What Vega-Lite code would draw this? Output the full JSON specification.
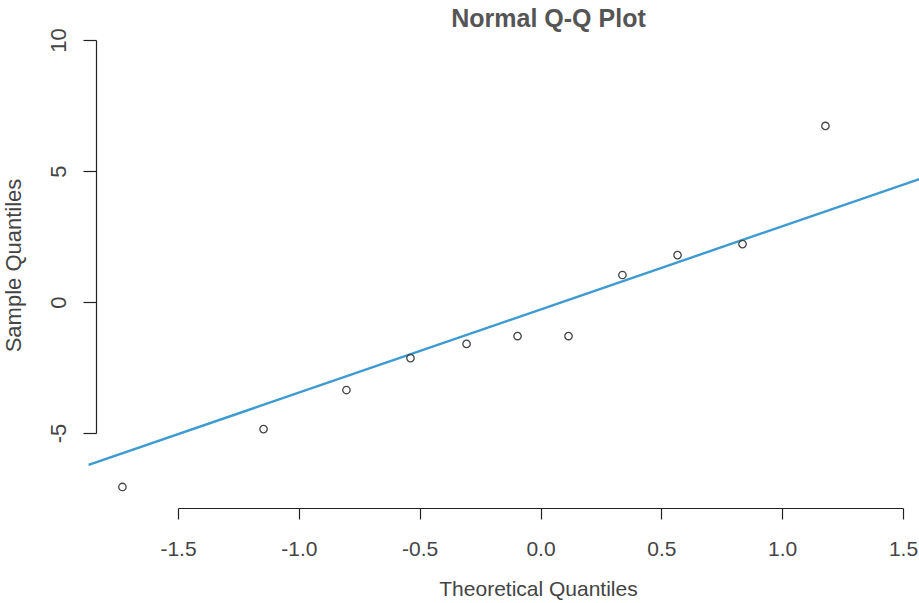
{
  "$schema": "https://vega.github.io/schema/vega-lite/v6.json",
  "width": 823,
  "height": 468,
  "autosize": {"type": "none"},
  "padding": {"left": 96, "top": 40, "right": 0, "bottom": 95},
  "background": "white",
  "config": {
    "view": {"stroke": null},
    "font": "Liberation Sans"
  },
  "title": {
    "text": "Normal Q-Q Plot",
    "fontSize": 25,
    "fontWeight": "bold",
    "font": "Liberation Sans",
    "color": "#555555",
    "anchor": "middle",
    "frame": "group",
    "dx": 41,
    "dy": 31,
    "baseline": "alphabetic",
    "offset": 7
  },
  "datasets": {
    "pts": [
      {"theoretical": -1.730, "sample": -7.06},
      {"theoretical": -1.146, "sample": -4.85},
      {"theoretical": -0.803, "sample": -3.36},
      {"theoretical": -0.538, "sample": -2.14},
      {"theoretical": -0.306, "sample": -1.60},
      {"theoretical": -0.095, "sample": -1.30},
      {"theoretical": 0.116, "sample": -1.30},
      {"theoretical": 0.339, "sample": 1.03},
      {"theoretical": 0.567, "sample": 1.79},
      {"theoretical": 0.836, "sample": 2.21},
      {"theoretical": 1.179, "sample": 6.72}
    ],
    "ref": [
      {"theoretical": -1.870, "sample": -6.22},
      {"theoretical": 1.568, "sample": 4.69}
    ]
  },
  "layer": [
    {
      "data": {"name": "ref"},
      "mark": {"type": "line", "color": "#3d9bd1", "strokeWidth": 2.4, "clip": false},
      "encoding": {
        "x": {
          "field": "theoretical", "type": "quantitative",
          "scale": {"domain": [-1.5, 1.5], "range": [82, 807], "nice": false, "zero": false},
          "axis": {
            "title": "Theoretical Quantiles",
            "values": [-1.5, -1, -0.5, 0, 0.5, 1, 1.5],
            "format": ".1f",
            "labelExpr": "replace(datum.label, '\u2212', '-')",
            "grid": false,
            "domainColor": "#222222",
            "domainWidth": 1.2,
            "tickColor": "#222222",
            "tickWidth": 1.2,
            "tickSize": 11,
            "labelFont": "Liberation Sans",
            "labelFontSize": 21,
            "labelColor": "#444444",
            "labelBaseline": "alphabetic",
            "labelPadding": 36,
            "labelFlush": false,
            "titleFont": "Liberation Sans",
            "titleFontSize": 21,
            "titleFontWeight": "normal",
            "titleColor": "#444444",
            "titleX": 442,
            "titleY": 87,
            "titleAlign": "center",
            "titleBaseline": "alphabetic"
          }
        },
        "y": {
          "field": "sample", "type": "quantitative",
          "scale": {"domain": [-5, 10], "range": [393, 0], "nice": false, "zero": false},
          "axis": {
            "title": "Sample Quantiles",
            "values": [-5, 0, 5, 10],
            "format": "d",
            "labelExpr": "replace(datum.label, '\u2212', '-')",
            "grid": false,
            "domainColor": "#222222",
            "domainWidth": 1.2,
            "tickColor": "#222222",
            "tickWidth": 1.2,
            "tickSize": 13,
            "labelFont": "Liberation Sans",
            "labelFontSize": 22,
            "labelColor": "#444444",
            "labelAngle": -90,
            "labelAlign": "center",
            "labelBaseline": "alphabetic",
            "labelPadding": 18,
            "labelFlush": false,
            "titleFont": "Liberation Sans",
            "titleFontSize": 22,
            "titleFontWeight": "normal",
            "titleColor": "#444444",
            "titleAngle": -90,
            "titleX": -76,
            "titleY": 225,
            "titleAlign": "center",
            "titleBaseline": "alphabetic"
          }
        }
      }
    },
    {
      "data": {"name": "pts"},
      "mark": {"type": "point", "shape": "circle", "filled": false, "stroke": "#444444", "strokeWidth": 1.3, "size": 55, "opacity": 1, "clip": false},
      "encoding": {
        "x": {"field": "theoretical", "type": "quantitative"},
        "y": {"field": "sample", "type": "quantitative"}
      }
    }
  ]
}
